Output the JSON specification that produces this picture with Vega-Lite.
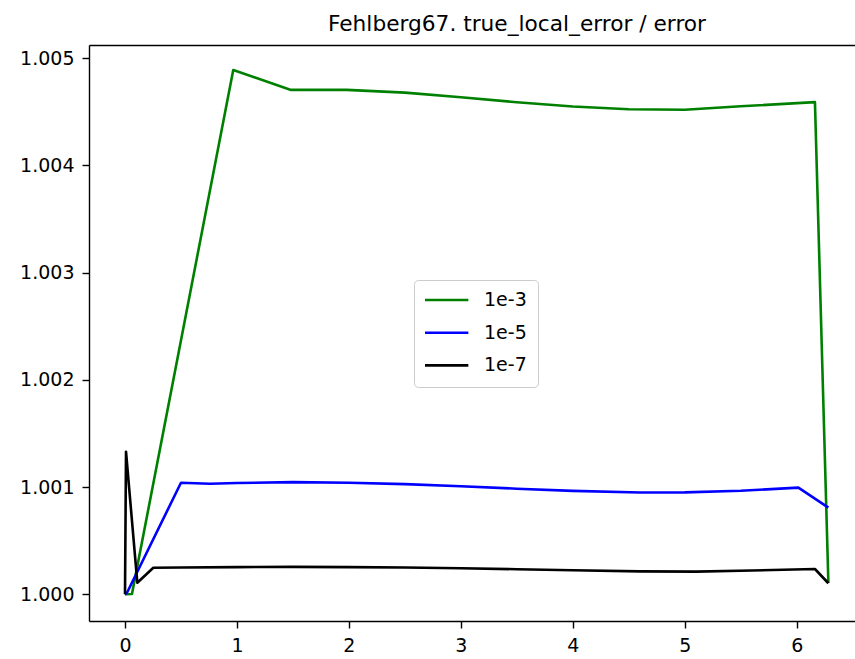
{
  "$schema": "https://vega.github.io/schema/vega-lite/v6.json",
  "width": 766,
  "height": 576,
  "autosize": {"type": "none"},
  "padding": {"left": 89, "top": 45, "right": 0, "bottom": 38},
  "title": {
    "text": "Fehlberg67. true_local_error / error",
    "font": "DejaVu Sans",
    "fontSize": 21.7,
    "fontWeight": "normal",
    "color": "#000000",
    "anchor": "middle",
    "baseline": "alphabetic",
    "offset": -8,
    "dx": 45
  },
  "data": {
    "values": [
      {"t": 0.0, "ratio": 1.0, "tol": "1e-3"},
      {"t": 0.062, "ratio": 1.000003, "tol": "1e-3"},
      {"t": 0.967, "ratio": 1.004891, "tol": "1e-3"},
      {"t": 1.483, "ratio": 1.004705, "tol": "1e-3"},
      {"t": 1.98, "ratio": 1.004705, "tol": "1e-3"},
      {"t": 2.5, "ratio": 1.00468, "tol": "1e-3"},
      {"t": 3.0, "ratio": 1.004636, "tol": "1e-3"},
      {"t": 3.5, "ratio": 1.00459, "tol": "1e-3"},
      {"t": 4.0, "ratio": 1.00455, "tol": "1e-3"},
      {"t": 4.5, "ratio": 1.004524, "tol": "1e-3"},
      {"t": 5.0, "ratio": 1.00452, "tol": "1e-3"},
      {"t": 5.5, "ratio": 1.004552, "tol": "1e-3"},
      {"t": 6.163, "ratio": 1.004591, "tol": "1e-3"},
      {"t": 6.283, "ratio": 1.000105, "tol": "1e-3"},
      {"t": 0.0, "ratio": 1.0, "tol": "1e-5"},
      {"t": 0.015, "ratio": 1.00001, "tol": "1e-5"},
      {"t": 0.03, "ratio": 1.00004, "tol": "1e-5"},
      {"t": 0.5, "ratio": 1.001041, "tol": "1e-5"},
      {"t": 0.76, "ratio": 1.001031, "tol": "1e-5"},
      {"t": 1.0, "ratio": 1.001038, "tol": "1e-5"},
      {"t": 1.5, "ratio": 1.001046, "tol": "1e-5"},
      {"t": 2.0, "ratio": 1.001041, "tol": "1e-5"},
      {"t": 2.5, "ratio": 1.001028, "tol": "1e-5"},
      {"t": 3.0, "ratio": 1.001008, "tol": "1e-5"},
      {"t": 3.5, "ratio": 1.000985, "tol": "1e-5"},
      {"t": 4.0, "ratio": 1.000965, "tol": "1e-5"},
      {"t": 4.6, "ratio": 1.00095, "tol": "1e-5"},
      {"t": 5.0, "ratio": 1.000951, "tol": "1e-5"},
      {"t": 5.5, "ratio": 1.000966, "tol": "1e-5"},
      {"t": 6.015, "ratio": 1.000995, "tol": "1e-5"},
      {"t": 6.283, "ratio": 1.000808, "tol": "1e-5"},
      {"t": 0.0, "ratio": 1.0, "tol": "1e-7"},
      {"t": 0.009, "ratio": 1.00133, "tol": "1e-7"},
      {"t": 0.11, "ratio": 1.000108, "tol": "1e-7"},
      {"t": 0.253, "ratio": 1.000248, "tol": "1e-7"},
      {"t": 0.5, "ratio": 1.00025, "tol": "1e-7"},
      {"t": 1.0, "ratio": 1.000254, "tol": "1e-7"},
      {"t": 1.5, "ratio": 1.000256, "tol": "1e-7"},
      {"t": 2.0, "ratio": 1.000254, "tol": "1e-7"},
      {"t": 2.5, "ratio": 1.00025, "tol": "1e-7"},
      {"t": 3.0, "ratio": 1.000243, "tol": "1e-7"},
      {"t": 3.5, "ratio": 1.000234, "tol": "1e-7"},
      {"t": 4.0, "ratio": 1.000224, "tol": "1e-7"},
      {"t": 4.6, "ratio": 1.000214, "tol": "1e-7"},
      {"t": 5.1, "ratio": 1.000212, "tol": "1e-7"},
      {"t": 5.6, "ratio": 1.000222, "tol": "1e-7"},
      {"t": 6.163, "ratio": 1.000236, "tol": "1e-7"},
      {"t": 6.283, "ratio": 1.000103, "tol": "1e-7"}
    ]
  },
  "layer": [
    {
      "mark": {"type": "line", "strokeWidth": 2.6, "strokeJoin": "round"},
      "encoding": {
        "x": {
          "field": "t",
          "type": "quantitative",
          "scale": {"domain": [-0.3216, 6.5208], "nice": false, "zero": false},
          "axis": {
            "orient": "bottom",
            "title": null,
            "values": [0, 1, 2, 3, 4, 5, 6],
            "format": "d",
            "grid": false
          }
        },
        "y": {
          "field": "ratio",
          "type": "quantitative",
          "scale": {"domain": [0.999751, 1.005124], "nice": false, "zero": false},
          "axis": {
            "title": null,
            "values": [1.0, 1.001, 1.002, 1.003, 1.004, 1.005],
            "format": ".3f",
            "grid": false
          }
        },
        "color": {
          "field": "tol",
          "type": "nominal",
          "scale": {"domain": ["1e-3", "1e-5", "1e-7"], "range": ["#008000", "#0000ff", "#000000"]},
          "legend": {
            "title": null,
            "orient": "none",
            "legendX": 325,
            "legendY": 235,
            "symbolType": "stroke",
            "symbolSize": 2180,
            "symbolStrokeWidth": 2.6,
            "symbolOffset": -5,
            "clipHeight": 18,
            "rowPadding": 13.7,
            "labelOffset": 14,
            "labelFont": "DejaVu Sans",
            "labelFontSize": 19,
            "labelColor": "#000000",
            "padding": 11,
            "strokeColor": "#cccccc",
            "fillColor": "#ffffff",
            "cornerRadius": 4
          }
        }
      }
    },
    {
      "mark": {"type": "line", "opacity": 0},
      "encoding": {
        "x": {
          "field": "t",
          "type": "quantitative",
          "axis": {
            "orient": "top",
            "title": null,
            "labels": false,
            "ticks": false,
            "grid": false,
            "tickSize": 0,
            "labelPadding": 0,
            "minExtent": 0,
            "maxExtent": 0
          }
        },
        "y": {"field": "ratio", "type": "quantitative"}
      }
    }
  ],
  "resolve": {"axis": {"x": "independent"}},
  "config": {
    "view": {"stroke": null},
    "axis": {
      "domainColor": "#000000",
      "domainWidth": 1.4,
      "tickColor": "#000000",
      "tickWidth": 1.4,
      "tickSize": 7,
      "labelPadding": 8,
      "labelFont": "DejaVu Sans",
      "labelFontSize": 19,
      "labelColor": "#000000"
    }
  }
}
